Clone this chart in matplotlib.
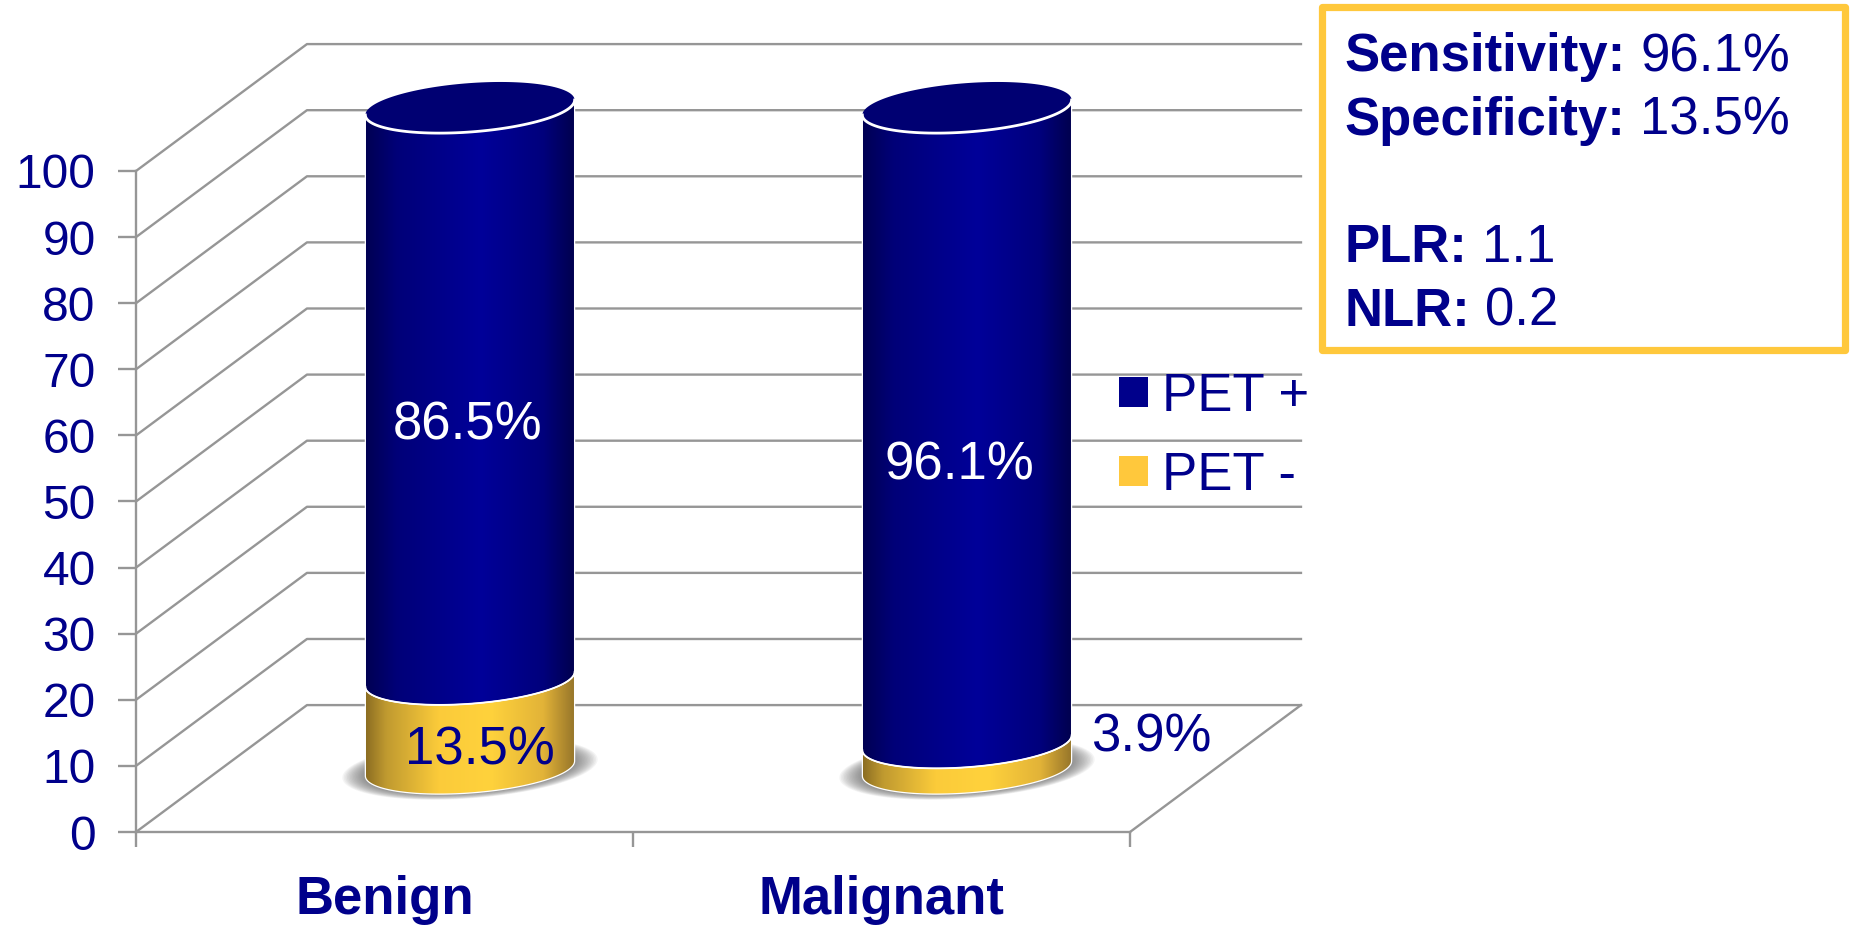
#!/usr/bin/env python3
"""PET result by final diagnosis, drawn as stacked 3D-style cylinders."""
import matplotlib
matplotlib.use('Agg')
import matplotlib.pyplot as plt
import numpy as np
from matplotlib.colors import LinearSegmentedColormap
from matplotlib.patches import Polygon, Rectangle

W, H = 1855, 936
NAVY = '#00008b'
GOLD = '#ffc83c'
GRID = '#969696'

categories = ['Benign', 'Malignant']
series_names = ['PET +', 'PET -']
pet_pos = [86.5, 96.1]
pet_neg = [13.5, 3.9]
y_ticks = list(range(0, 101, 10))

stats_bold = ['Sensitivity:', 'Specificity:', 'PLR:', 'NLR:']
stats_vals = ['96.1%', '13.5%', '1.1', '0.2']
stats_base = [71, 135, 262, 326]

plt.rcParams['font.family'] = ['Liberation Sans', 'DejaVu Sans']

fig = plt.figure(figsize=(W / 100, H / 100), dpi=100, facecolor='white')
ax = fig.add_axes([136 / W, 1 - 832 / H, 994 / W, 661 / H])
ax.set_xlim(0, 2); ax.set_ylim(0, 100)
ax.patch.set_visible(False)

# depth of the fake 3D box, in data units
DX, DY = 0.344, 19.2
for v in y_ticks:
    ax.plot([0, DX, 2 + DX], [v, v + DY, v + DY], color=GRID, lw=1.7, clip_on=False, zorder=1)
ax.plot([2, 2 + DX], [0, DY], color=GRID, lw=1.7, clip_on=False, zorder=1)

for s in ['top', 'right']:
    ax.spines[s].set_visible(False)
for s in ['left', 'bottom']:
    ax.spines[s].set_color(GRID); ax.spines[s].set_linewidth(1.7)
ax.set_yticks(y_ticks)
ax.tick_params(axis='y', length=13, width=1.7, color=GRID, labelcolor=NAVY, labelsize=34.5, pad=16)
ax.set_xticks([0, 1, 2]); ax.set_xticklabels([])
ax.tick_params(axis='x', length=11, width=1.7, color=GRID)
ax.set_xticks([0.5, 1.5], minor=True)
ax.set_xticklabels(categories, minor=True, fontsize=38, fontweight='bold', color=NAVY)
ax.tick_params(axis='x', which='minor', length=0, pad=31)

blue_cm = LinearSegmentedColormap.from_list('blue', [(0, '#000052'), (0.15, '#000078'), (0.55, '#000099'), (0.85, '#00007c'), (1, '#00004e')])
gold_cm = LinearSegmentedColormap.from_list('gold', [(0, '#8a6c22'), (0.1, '#c09a30'), (0.35, '#fbcb3a'), (0.6, '#ffd23c'), (0.85, '#e2b338'), (1, '#96752a')])
ramp = np.linspace(0, 1, 256).reshape(1, -1)

HW = 0.2105    # cylinder half width
TILT = 1.13    # right end of the ellipse sits higher than the left
B = 3.7        # ellipse half height
T_FRONT = np.linspace(0, np.pi, 80)


def arc(cx, level, t, scale=1.0):
    return (cx + scale * HW * np.cos(t),
            level + scale * (TILT * np.cos(t) - B * np.sin(t)))


def side(cx, lo, hi, cmap, z):
    # front surface of one stacked segment, shaded left to right
    x0, y0 = arc(cx, lo, T_FRONT)
    x1, y1 = arc(cx, hi, T_FRONT)
    pts = np.r_[np.c_[x0, y0], np.c_[x1, y1][::-1]]
    poly = Polygon(pts, closed=True, fc='none', ec='white', lw=0.9, clip_on=False, zorder=z + 0.1,
                   transform=ax.transData)
    ax.add_patch(poly)
    im = ax.imshow(ramp, cmap=cmap, extent=[cx - HW, cx + HW, lo - B - 2, hi + B + 2], aspect='auto',
                   interpolation='bilinear', zorder=z)
    im.set_clip_box(fig.bbox)
    im.set_clip_path(poly)


t_all = np.linspace(0, 2 * np.pi, 160)
for i in range(len(categories)):
    cx = i + 0.5 + DX / 2
    base = DY / 2
    # soft shadow on the floor
    for sc in np.linspace(1.22, 1.0, 16):
        sx, sy = arc(cx, base, t_all, sc)
        ax.add_patch(Polygon(np.c_[sx, sy], closed=True, fc='#606060', ec='none', alpha=0.065,
                             clip_on=False, zorder=2))
    split = base + pet_neg[i]
    top = split + pet_pos[i]
    side(cx, base, split, gold_cm, 3)
    side(cx, split, top, blue_cm, 4)
    ex, ey = arc(cx, split, T_FRONT)
    ax.plot(ex, ey, color='white', lw=1.3, clip_on=False, zorder=5)
    tx, ty = arc(cx, top, t_all)
    ax.add_patch(Polygon(np.c_[tx, ty], closed=True, fc='#000072', ec='none', clip_on=False, zorder=5))
    ex, ey = arc(cx, top, T_FRONT)
    ax.plot(ex, ey, color='white', lw=2, clip_on=False, zorder=6)

# value labels
pos_label_y = [61.5, 55.4]
neg_label_y = [12.4, 14.3]
pos_label_dx = [-0.005, -0.015]
neg_label_dx = [0.02, 0.37]
for i in range(len(categories)):
    cx = i + 0.5 + DX / 2
    ax.text(cx + pos_label_dx[i], pos_label_y[i], f'{pet_pos[i]}%', color='white', fontsize=38,
            ha='center', va='center', zorder=8)
    ax.text(cx + neg_label_dx[i], neg_label_y[i], f'{pet_neg[i]}%', color=NAVY, fontsize=38,
            ha='center', va='center', zorder=8, clip_on=False)

handles = [Rectangle((0, 0), 1, 1, fc=NAVY), Rectangle((0, 0), 1, 1, fc=GOLD)]
ax.legend(handles, series_names, loc='upper left', bbox_to_anchor=(1119 / W, 1 - 372 / H),
          bbox_transform=fig.transFigure, frameon=False, fontsize=38, labelcolor=NAVY,
          handlelength=0.55, handleheight=0.5, handletextpad=0.27, labelspacing=0.55,
          borderpad=0, borderaxespad=0)

# statistics box, upper right
fig.add_artist(Rectangle((1322 / W, 1 - 350 / H), 523 / W, 343 / H, transform=fig.transFigure,
                         fc='white', ec=GOLD, lw=5.2, joinstyle='round', zorder=9))
rend = fig.canvas.get_renderer()
for name, val, base_y in zip(stats_bold, stats_vals, stats_base):
    t = fig.text(1344 / W, 1 - base_y / H, name, color=NAVY, fontsize=38, fontweight='bold',
                 va='baseline', zorder=10)
    x1 = t.get_window_extent(rend).x1
    fig.text((x1 + 15) / W, 1 - base_y / H, val, color=NAVY, fontsize=38, va='baseline', zorder=10)

fig.savefig('out.png', dpi=100, facecolor='white')
